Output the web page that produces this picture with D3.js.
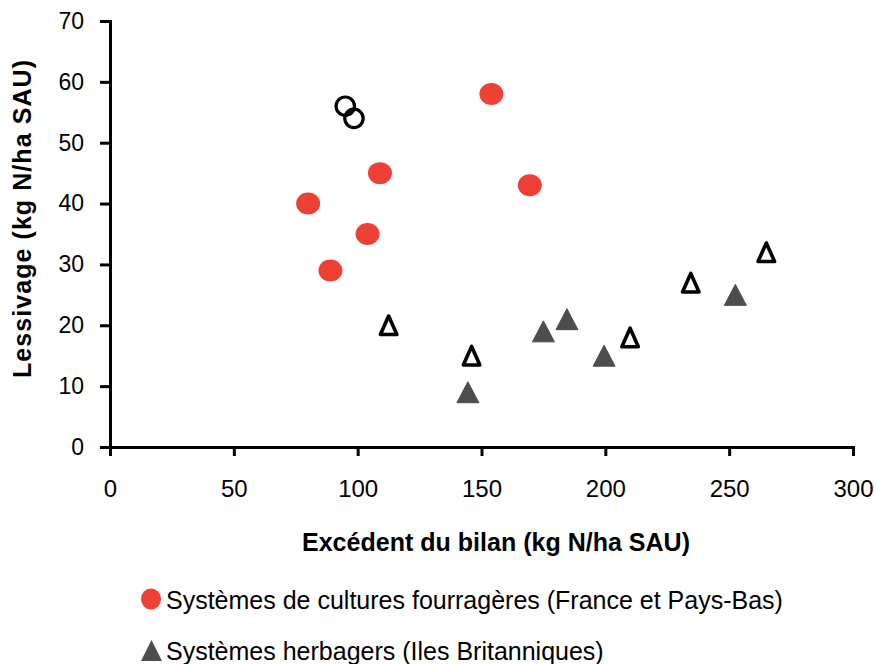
<!DOCTYPE html>
<html>
<head>
<meta charset="utf-8">
<script src="https://cdn.jsdelivr.net/npm/d3@7"></script>
<style>
  body { margin: 0; background: #fff; }
  text { font-family: "Liberation Sans", Arial, sans-serif; fill: #000; }
  .axisTitle { font-weight: bold; font-size: 25px; }
  .xAxis .tick text { font-size: 24px; }
  .yAxis .tick text { font-size: 23px; }
  .legend text { font-size: 25px; }
</style>
</head>
<body>
<div id="chart"></div>
<script>
// Data
var fourrageX = [80, 89, 104, 109, 154, 169.5];
var fourrageY = [40, 29, 35, 45, 58, 43];
var fourrageOpenX = [95, 98.5];
var fourrageOpenY = [56, 54];
var herbagerX = [144.5, 175, 184.5, 199.5, 252.5];
var herbagerY = [9, 19, 21, 15, 25];
var herbagerOpenX = [112.5, 146, 210, 234.5, 265];
var herbagerOpenY = [20, 15, 18, 27, 32];
var xTicks = [0, 50, 100, 150, 200, 250, 300];
var yTicks = [0, 10, 20, 30, 40, 50, 60, 70];
var legendLabels = ["Systèmes de cultures fourragères (France et Pays-Bas)", "Systèmes herbagers (Iles Britanniques)"];

var svgWidth = 876;
var svgHeight = 664;
var margin = { top: 21, right: 23, bottom: 217, left: 110 };
var width = svgWidth - margin.left - margin.right;
var height = svgHeight - margin.top - margin.bottom;

var svg = d3.select("#chart")
  .append("svg")
  .attr("width", svgWidth)
  .attr("height", svgHeight);

var chartGroup = svg.append("g")
  .attr("transform", `translate(${margin.left}, ${margin.top})`);

var xScale = d3.scaleLinear().domain([0, 300]).range([0, width]);
var yScale = d3.scaleLinear().domain([0, 70]).range([height, 0]);

var zip = (xs, ys) => xs.map((x, i) => ({ x: x, y: ys[i] }));

// triangle centred on its bounding box, like the spreadsheet markers
function triangle(w, h) {
  var p = d3.path();
  p.moveTo(0, -h / 2);
  p.lineTo(w / 2, h / 2);
  p.lineTo(-w / 2, h / 2);
  p.closePath();
  return p.toString();
}

// Axes
var bottomAxis = d3.axisBottom(xScale).tickValues(xTicks).tickSizeOuter(0).tickSize(9).tickPadding(24);
var leftAxis = d3.axisLeft(yScale).tickValues(yTicks).tickSizeOuter(0).tickSize(10).tickPadding(16);

var xg = chartGroup.append("g")
  .attr("class", "xAxis")
  .attr("transform", `translate(0, ${height})`)
  .call(bottomAxis);
var yg = chartGroup.append("g").attr("class", "yAxis").call(leftAxis);

[xg, yg].forEach(function(g) {
  g.selectAll(".domain").attr("stroke", "#000").attr("stroke-width", 3);
  g.selectAll(".tick line").attr("stroke", "#000").attr("stroke-width", 3);
  g.selectAll(".tick text").attr("fill", "#000");
});

// Marks
chartGroup.selectAll(".fourrage")
  .data(zip(fourrageX, fourrageY))
  .enter().append("ellipse")
  .attr("cx", d => xScale(d.x))
  .attr("cy", d => yScale(d.y))
  .attr("rx", 12)
  .attr("ry", 11)
  .attr("fill", "#EE4035");

chartGroup.selectAll(".fourrageOpen")
  .data(zip(fourrageOpenX, fourrageOpenY))
  .enter().append("circle")
  .attr("cx", d => xScale(d.x))
  .attr("cy", d => yScale(d.y))
  .attr("r", 9.2)
  .attr("fill", "none")
  .attr("stroke", "#000")
  .attr("stroke-width", 3.2);

chartGroup.selectAll(".herbager")
  .data(zip(herbagerX, herbagerY))
  .enter().append("path")
  .attr("d", triangle(22, 21))
  .attr("transform", d => `translate(${xScale(d.x)}, ${yScale(d.y)})`)
  .attr("fill", "#4D4D4D")
  .attr("stroke", "#4D4D4D")
  .attr("stroke-linejoin", "round")
  .attr("stroke-width", 1);

chartGroup.selectAll(".herbagerOpen")
  .data(zip(herbagerOpenX, herbagerOpenY))
  .enter().append("path")
  .attr("d", triangle(16.5, 18.5))
  .attr("transform", d => `translate(${xScale(d.x)}, ${yScale(d.y)})`)
  .attr("fill", "#fff")
  .attr("stroke", "#000")
  .attr("stroke-linejoin", "round")
  .attr("stroke-width", 3.6);

// Axis titles
svg.append("text")
  .attr("class", "axisTitle")
  .attr("x", 496)
  .attr("y", 551)
  .attr("text-anchor", "middle")
  .attr("textLength", 388)
  .text("Excédent du bilan (kg N/ha SAU)");

svg.append("text")
  .attr("class", "axisTitle")
  .attr("transform", "translate(31, 219) rotate(-90)")
  .attr("text-anchor", "middle")
  .attr("textLength", 318)
  .text("Lessivage (kg N/ha SAU)");

// Legend
var legend = svg.append("g").attr("class", "legend");
legend.append("ellipse")
  .attr("cx", 151).attr("cy", 599).attr("rx", 10).attr("ry", 10.5)
  .attr("fill", "#EE4035");
legend.append("path")
  .attr("d", triangle(21, 21))
  .attr("transform", "translate(151.5, 650.5)")
  .attr("fill", "#4D4D4D");
legend.selectAll(".lbl")
  .data(legendLabels)
  .enter().append("text")
  .attr("x", 166)
  .attr("y", (d, i) => 609 + i * 51)
  .text(d => d);
</script>
</body>
</html>
